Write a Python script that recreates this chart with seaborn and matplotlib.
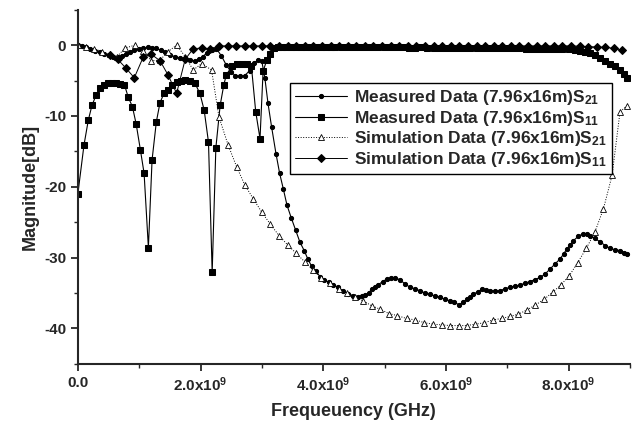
import matplotlib
matplotlib.use('Agg')
import matplotlib.pyplot as plt
from matplotlib.ticker import MultipleLocator, FuncFormatter
import numpy as np
import seaborn as sns

# frequency in GHz, magnitude in dB
meas_s21_f = [0.0, 0.06, 0.13, 0.2, 0.28, 0.36, 0.43, 0.5, 0.58, 0.65, 0.72, 0.79, 0.85, 0.92, 0.99,
              1.07, 1.14, 1.21, 1.28, 1.35, 1.42, 1.5, 1.58, 1.66, 1.74, 1.83, 1.91, 1.98, 2.04, 2.1,
              2.18, 2.26, 2.34, 2.42, 2.5, 2.57, 2.65, 2.72, 2.8, 2.87, 2.94, 3.0, 3.05, 3.1, 3.16,
              3.23, 3.29, 3.35, 3.41, 3.48, 3.55, 3.62, 3.69, 3.75, 3.81, 3.88, 3.95, 4.02, 4.09,
              4.16, 4.24, 4.33, 4.41, 4.49, 4.56, 4.63, 4.69, 4.74, 4.79, 4.85, 4.9, 4.97, 5.04,
              5.1, 5.17, 5.25, 5.33, 5.42, 5.5, 5.58, 5.66, 5.74, 5.82, 5.9, 5.98, 6.07, 6.14, 6.22,
              6.28, 6.34, 6.4, 6.45, 6.52, 6.59, 6.66, 6.72, 6.8, 6.88, 6.96, 7.05, 7.13, 7.21,
              7.29, 7.37, 7.45, 7.54, 7.62, 7.7, 7.78, 7.86, 7.92, 7.97, 8.03, 8.08, 8.16, 8.24,
              8.3, 8.35, 8.43, 8.52, 8.6, 8.68, 8.76, 8.84, 8.9, 8.95]
meas_s21 = [0.0, -0.1, -0.25, -0.5, -0.8, -1.0, -1.2, -1.45, -1.6, -1.7, -1.5, -1.2, -0.9, -0.7, -0.6,
            -0.45, -0.3, -0.35, -0.45, -0.7, -1.0, -1.4, -1.6, -1.8, -2.0, -2.1, -2.2, -2.0, -1.6, -1.1,
            -0.7, -0.5, -1.5, -2.8, -3.8, -4.3, -4.4, -4.3, -3.6, -2.5, -2.1, -2.3, -4.7, -8.2, -11.6,
            -15.3, -18.1, -20.3, -22.6, -24.4, -26.1, -27.8, -29.0, -30.2, -31.2, -31.9, -32.7, -33.1, -33.5,
            -33.8, -34.2, -34.7, -35.1, -35.4, -35.5, -35.4, -35.3, -35.0, -34.5, -34.1, -33.8, -33.4, -33.0,
            -32.9, -32.9, -33.1, -33.7, -34.2, -34.4, -34.7, -35.0, -35.2, -35.4, -35.6, -35.9, -36.1, -36.3, -36.7,
            -36.3, -35.9, -35.5, -35.2, -34.8, -34.5, -34.6, -34.7, -34.7, -34.7, -34.4, -34.2, -34.0, -33.9,
            -33.6, -33.4, -33.1, -32.8, -32.3, -31.6, -30.9, -30.2, -29.5, -28.8, -28.2, -27.6, -27.0, -26.6,
            -26.6, -26.9, -27.3, -27.8, -28.3, -28.7, -28.9, -29.0, -29.3, -29.5]

meas_s11_f = [0.0, 0.1, 0.17, 0.23, 0.3, 0.36, 0.43, 0.49, 0.56, 0.62, 0.69, 0.76, 0.82, 0.89, 0.95,
              1.02, 1.08, 1.15, 1.21, 1.28, 1.34, 1.41, 1.47, 1.54, 1.61, 1.68, 1.75, 1.83, 1.91, 1.99,
              2.06, 2.13, 2.19, 2.25, 2.32, 2.38, 2.42, 2.51, 2.6, 2.67, 2.75, 2.83, 2.9, 2.97, 3.02,
              3.08, 3.14, 3.19, 3.26, 3.33, 3.4, 3.48, 3.56, 3.64, 3.72, 3.8, 3.88, 3.96, 4.04, 4.12,
              4.2, 4.3, 4.4, 4.5, 4.6, 4.7, 4.8, 4.9, 5.0, 5.1, 5.2, 5.3, 5.4, 5.5, 5.6, 5.7, 5.8, 5.9,
              6.0, 6.1, 6.2, 6.3, 6.4, 6.5, 6.6, 6.7, 6.8, 6.9, 7.0, 7.1, 7.2, 7.3, 7.4, 7.5, 7.6, 7.7,
              7.8, 7.9, 8.0, 8.1, 8.19, 8.27, 8.35, 8.43, 8.52, 8.6, 8.68, 8.76, 8.84, 8.9, 8.95]
meas_s11 = [-21.0, -14.1, -10.6, -8.5, -7.0, -6.1, -5.6, -5.35, -5.3, -5.4, -5.5, -5.6, -7.3, -8.7, -11.1,
            -14.8, -18.1, -28.6, -16.2, -10.8, -8.1, -6.7, -6.3, -5.6, -5.2, -5.0, -4.9, -5.05, -5.4, -6.8,
            -9.2, -13.7, -32.1, -14.5, -8.5, -5.6, -4.2, -3.0, -2.7, -2.6, -2.7, -3.0, -9.4, -13.2, -3.7,
            -2.1, -1.2, -0.4, -0.3, -0.3, -0.25, -0.3, -0.3, -0.25, -0.3, -0.3, -0.3, -0.25, -0.3, -0.3,
            -0.3, -0.3, -0.25, -0.3, -0.3, -0.3, -0.3, -0.3, -0.3, -0.3, -0.3, -0.3, -0.35, -0.35, -0.3, -0.35, -0.35, -0.35,
            -0.35, -0.4, -0.4, -0.4, -0.4, -0.4, -0.4, -0.4, -0.45, -0.45, -0.45, -0.45, -0.45, -0.5, -0.5, -0.5, -0.5, -0.55,
            -0.55, -0.6, -0.6, -0.7, -0.8, -0.95, -1.1, -1.4, -1.8, -2.2, -2.6, -3.0, -3.5, -4.1, -4.7]

sim_s21_f = [0.0, 0.13, 0.26, 0.39, 0.52, 0.64, 0.77, 0.93, 1.06, 1.2, 1.34, 1.47, 1.61, 1.75, 1.88,
             2.02, 2.18, 2.3, 2.45, 2.59, 2.72, 2.86, 3.0, 3.14, 3.28, 3.42, 3.56, 3.7, 3.84, 3.97,
             4.11, 4.25, 4.39, 4.52, 4.65, 4.79, 4.93, 5.07, 5.21, 5.36, 5.5, 5.65, 5.79, 5.93, 6.07,
             6.21, 6.34, 6.48, 6.63, 6.77, 6.91, 7.05, 7.18, 7.32, 7.46, 7.6, 7.74, 7.87, 8.01, 8.15,
             8.29, 8.43, 8.57, 8.71, 8.84, 8.95]
sim_s21 = [0.0, -0.2, -0.5, -0.9, -1.3, -1.6, -0.4, 0.0, -0.8, -2.2, -2.1, -0.9, 0.0, -1.6, -3.5,
           -2.6, -3.5, -10.1, -14.1, -17.2, -19.7, -21.7, -23.6, -25.3, -26.9, -28.2, -29.4, -30.6, -31.8, -32.9,
           -33.6, -34.4, -35.0, -35.6, -36.1, -36.8, -37.3, -37.9, -38.2, -38.6, -38.8, -39.2, -39.4, -39.5, -39.6,
           -39.6, -39.6, -39.4, -39.2, -38.8, -38.6, -38.3, -38.0, -37.4, -36.7, -35.9, -34.9, -33.9, -32.6, -30.7,
           -28.7, -26.4, -23.1, -18.4, -9.4, -8.6]

sim_s11_f = [0.52, 0.65, 0.78, 0.92, 1.07, 1.2, 1.34, 1.47, 1.61, 1.75, 1.88, 2.02, 2.16, 2.3, 2.44,
             2.58, 2.72, 2.86, 3.0, 3.14, 3.28, 3.42, 3.56, 3.7, 3.84, 3.98, 4.12, 4.26, 4.4, 4.54,
             4.68, 4.82, 4.96, 5.1, 5.24, 5.38, 5.52, 5.66, 5.8, 5.94, 6.08, 6.22, 6.36, 6.5, 6.64,
             6.78, 6.92, 7.06, 7.2, 7.34, 7.48, 7.62, 7.76, 7.9, 8.04, 8.18, 8.32, 8.46, 8.6, 8.74, 8.88]
sim_s11 = [-1.4, -2.0, -3.2, -4.6, -1.6, -1.3, -2.2, -4.2, -6.8, -2.0, -0.5, -0.4, -0.5, -0.1, -0.1,
           -0.1, -0.1, -0.1, -0.1, -0.1, -0.1, -0.1, -0.1, -0.1, -0.1, -0.1, -0.1, -0.1, -0.1, -0.1,
           -0.1, -0.1, -0.1, -0.1, -0.1, -0.1, -0.1, -0.1, -0.1, -0.1, -0.1, -0.1, -0.1, -0.1, -0.1,
           -0.1, -0.1, -0.1, -0.1, -0.1, -0.1, -0.1, -0.1, -0.1, -0.1, -0.15, -0.2, -0.25, -0.3, -0.45, -0.7]

labels = [r'Measured Data (7.96x16m)S$_{21}$',
          r'Measured Data (7.96x16m)S$_{11}$',
          r'Simulation Data (7.96x16m)S$_{21}$',
          r'Simulation Data (7.96x16m)S$_{11}$']

sns.set_style('ticks')
plt.rcParams['font.family'] = ['Liberation Sans', 'DejaVu Sans']
plt.rcParams['font.weight'] = 'bold'
plt.rcParams['mathtext.fontset'] = 'custom'
plt.rcParams['mathtext.rm'] = 'Liberation Sans:bold'
plt.rcParams['mathtext.bf'] = 'Liberation Sans:bold'
plt.rcParams['mathtext.default'] = 'bf'
plt.rcParams['axes.unicode_minus'] = False

fig = plt.figure(figsize=(6.33, 4.26), dpi=100)
ax = fig.add_axes([0.123, 0.146, 0.872, 0.831])

G = 1e9
sns.lineplot(x=np.array(meas_s21_f) * G, y=meas_s21, ax=ax, color='k', lw=0.8,
             marker='o', markersize=3.0, markeredgecolor='k', markerfacecolor='k', label=labels[0])
sns.lineplot(x=np.array(meas_s11_f) * G, y=meas_s11, ax=ax, color='k', lw=0.8,
             marker='s', markersize=4.2, markeredgecolor='k', markerfacecolor='k', label=labels[1])
sns.lineplot(x=np.array(sim_s21_f) * G, y=sim_s21, ax=ax, color='k', lw=0.7, linestyle=':',
             marker='^', markersize=4.5, markeredgecolor='k', markerfacecolor='w',
             markeredgewidth=0.6, label=labels[2])
sns.lineplot(x=np.array(sim_s11_f) * G, y=sim_s11, ax=ax, color='k', lw=0.7,
             marker='D', markersize=4.3, markeredgecolor='k', markerfacecolor='k', label=labels[3])

ax.set_xlim(0, 9.0e9)
ax.set_ylim(-45, 5)
ax.xaxis.set_major_locator(MultipleLocator(2e9))
ax.xaxis.set_minor_locator(MultipleLocator(1e9))
ax.yaxis.set_major_locator(MultipleLocator(10))
ax.yaxis.set_minor_locator(MultipleLocator(5))


def fmt_x(v, pos):
    if v == 0:
        return '0.0'
    return r'%.1fx10$^{9}$' % (v / 1e9)


ax.xaxis.set_major_formatter(FuncFormatter(fmt_x))
ax.tick_params(which='major', length=5, width=1.3, labelsize=11, direction='out')
ax.tick_params(which='minor', length=3, width=1.0, direction='out')
for lab in ax.get_xticklabels() + ax.get_yticklabels():
    lab.set_fontweight('bold')

sns.despine(ax=ax)
ax.spines['left'].set_linewidth(1.5)
ax.spines['bottom'].set_linewidth(1.5)

ax.set_xlabel('Frequeuency (GHz)', fontsize=13, fontweight='bold', labelpad=6)
ax.set_ylabel('Magnitude[dB]', fontsize=13, fontweight='bold', labelpad=4)

leg = ax.legend(loc='upper left', bbox_to_anchor=(0.384, 0.794), borderaxespad=0,
                fancybox=False, framealpha=1, edgecolor='k', fontsize=12.5,
                handlelength=3.0, labelspacing=0.1, borderpad=0.3, handletextpad=0.4)
leg.get_frame().set_linewidth(1.0)

fig.savefig('out.png', dpi=100)
